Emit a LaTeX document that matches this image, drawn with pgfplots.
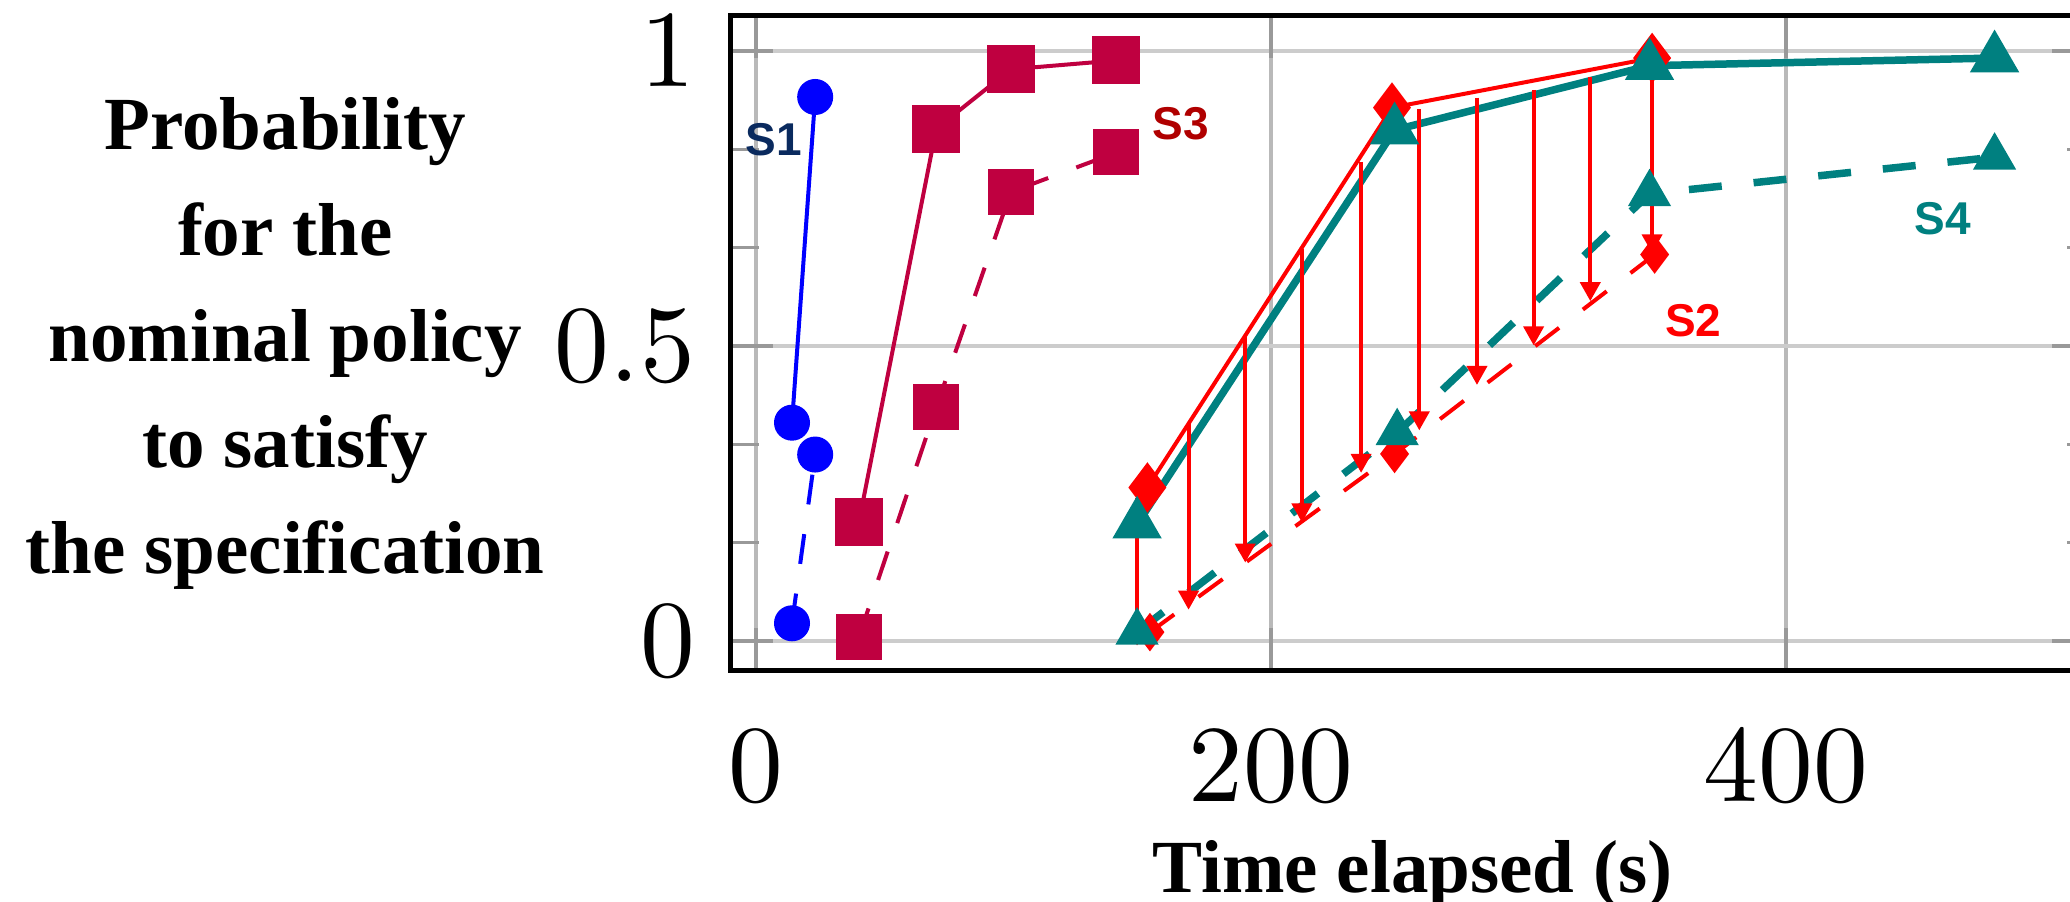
\documentclass[border=0pt]{standalone}
\usepackage{fontspec}
\setmainfont{Liberation Serif}
\newfontfamily\labelsans{Liberation Sans}
\usepackage{pgfplots}
\usepackage{pgfplotstable}
\pgfplotsset{compat=1.18}
\usetikzlibrary{arrows.meta}

\definecolor{sonecol}{HTML}{0A2A5E}
\definecolor{sthreecol}{HTML}{B00000}
\definecolor{crimson}{rgb}{0.75,0,0.25}

% vertical drops from the solid S2 curve to the dashed one
\pgfplotstableread{
x     y      v
148   0.243  -0.251
168   0.368  -0.315
190   0.518  -0.385
212   0.665  -0.464
235   0.811  -0.526
257.6 0.902  -0.545
280   0.921  -0.487
302   0.934  -0.433
324   0.956  -0.380
348   0.980  -0.323
}\droptab

\begin{document}
\begin{tikzpicture}

\begin{axis}[
  name=ax,
  width=136.5pt, height=65.5pt, scale only axis,
  xmin=-10, xmax=520, ymin=-0.05, ymax=1.06,
  xtick={0,200,400}, ytick={0,0.5,1}, minor y tick num=2,
  grid=major,
  major x grid style={gray!55, line width=0.4pt},
  major y grid style={gray!40, line width=0.35pt},
  tick style={gray!80, line width=0.35pt},
  axis line style={black, line width=0.5pt},
  tick label style={font=\fontsize{10.5}{12}\selectfont},
  xticklabel style={yshift=-2.5pt},
  xlabel={Time elapsed (s)},
  xlabel style={at={(rel axis cs:0.5,0)}, anchor=center, yshift=-20.4pt,
    font=\fontsize{7.5}{9}\selectfont\bfseries},
  ylabel={Probability\\for the\\nominal policy\\to satisfy\\the specification},
  ylabel style={rotate=-90, at={(rel axis cs:0,0.5)}, anchor=center,
    xshift=-44.5pt, align=center, font=\fontsize{7.5}{10.6}\selectfont\bfseries},
]

\coordinate (sw) at (rel axis cs:0,0);
\coordinate (ne) at (rel axis cs:1,1);

% S1
\addplot[blue, line width=0.4pt, mark=*, mark size=1.6pt]
  coordinates {(14,0.370) (23,0.922)};
\addplot[blue, line width=0.4pt, dashed, mark=*, mark size=1.6pt, mark options={solid}]
  coordinates {(14,0.030) (23,0.316)};

% S3
\addplot[crimson, line width=0.4pt, mark=square*, mark size=2.2pt]
  coordinates {(40,0.202) (70,0.868) (99,0.969) (140,0.984)};
\addplot[crimson, line width=0.4pt, dashed, mark=square*, mark size=2.1pt, mark options={solid}]
  coordinates {(40,0.007) (70,0.396) (99,0.761) (140,0.828)};

% S2
\addplot[red, line width=0.4pt, mark=diamond*, mark size=2.2pt]
  coordinates {(152,0.260) (247,0.904) (348,0.988)};
\addplot[red, line width=0.4pt, dashed, mark=diamond*, mark size=1.6pt, mark options={solid}]
  coordinates {(153,0.015) (248,0.317) (349,0.655)};

% S4
\addplot[teal, line width=0.75pt, mark=triangle*, mark size=2.1pt]
  coordinates {(148,0.198) (248,0.866) (347,0.975) (481,0.988)};
\addplot[teal, line width=0.75pt, dash pattern=on 3.3pt off 3.2pt, mark=triangle*, mark size=1.75pt, mark options={solid}]
  coordinates {(148,0.015) (249,0.353) (347,0.758) (481,0.820)};

\addplot[red, line width=0.4pt, -{Triangle[length=1.9pt,width=2pt]},
  quiver={u=0, v=\thisrow{v}}] table[x=x, y=y] {\droptab};

\node[text=sonecol, font=\labelsans\fontsize{4.6}{5}\selectfont\bfseries] at (axis cs:7,0.85) {S1};
\node[text=sthreecol, font=\labelsans\fontsize{4.6}{5}\selectfont\bfseries] at (axis cs:165,0.876) {S3};
\node[text=red, font=\labelsans\fontsize{4.6}{5}\selectfont\bfseries] at (axis cs:364,0.543) {S2};
\node[text=teal, font=\labelsans\fontsize{4.6}{5}\selectfont\bfseries] at (axis cs:461,0.716) {S4};

\end{axis}

\pgfresetboundingbox
\path[use as bounding box] ([xshift=-73.03pt, yshift=-23.15pt]sw) rectangle ([xshift=-2.5pt, yshift=1.56pt]ne);
\end{tikzpicture}
\end{document}
